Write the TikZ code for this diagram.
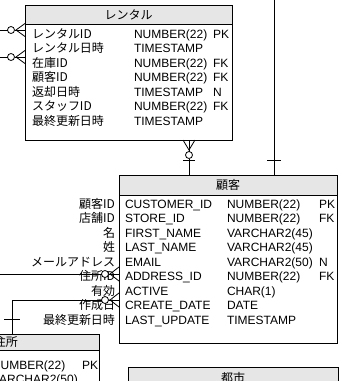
\documentclass[tikz,border=0pt]{standalone}
\usepackage{fontspec}
\setmainfont{Liberation Sans}
\newfontfamily\jp{Noto Sans CJK JP}
\definecolor{hdrgray}{HTML}{E6E6E6}
\begin{document}
\begin{tikzpicture}[x=1pt,y=-1pt,
  every node/.style={font=\fontsize{12}{14}\selectfont, inner sep=0pt, outer sep=0pt},
  ln/.style={line width=0.8pt, draw=black},
  tbl/.style={ln, anchor=north west, fill=white},
  hdr/.style={ln, anchor=north west, fill=hdrgray, font=\jp\fontsize{12}{14}\selectfont},
  txt/.style={anchor=base west, text=black},
  jtxt/.style={anchor=base west, font=\jp\fontsize{12}{14}\selectfont},
  jlab/.style={anchor=base east, font=\jp\fontsize{12}{14}\selectfont},
  zcirc/.style={circle, ln, fill=white, minimum size=7pt}
]
\useasboundingbox (0,0) rectangle (342,381);
\clip (0,0) rectangle (342,381);

% ---------- tables ----------
\node[tbl, minimum width=207pt, minimum height=135pt] (rental) at (25,5) {};
\node[hdr, minimum width=207pt, minimum height=19pt] (rentalh) at (25,5) {レンタル};

\node[tbl, minimum width=218pt, minimum height=168pt] (cust) at (119,175) {};
\node[hdr, minimum width=218pt, minimum height=20pt] (custh) at (119,175) {顧客};

\node[tbl, minimum width=186pt, minimum height=70pt] (addr) at (-87,334) {};
\node[hdr, minimum width=186pt, minimum height=16pt] (addrh) at (-87,334) {住所};

\node[tbl, minimum width=210pt, minimum height=40pt] (city) at (128,367) {};
\node[hdr, minimum width=210pt, minimum height=21pt] (cityh) at (128,367) {都市};

% ---------- rental rows ----------
\foreach \i/\nm/\ty/\fl in {0/レンタルID/NUMBER(22)/PK, 1/レンタル日時/TIMESTAMP/, 2/在庫ID/NUMBER(22)/FK, 3/顧客ID/NUMBER(22)/FK, 4/返却日時/TIMESTAMP/N, 5/スタッフID/NUMBER(22)/FK, 6/最終更新日時/TIMESTAMP/}{
  \node[jtxt] (rn\i) at (32,38+14.5*\i) {\nm};
  \node[txt] (rt\i) at (134,38+14.5*\i) {\ty};
  \node[txt] (rf\i) at (213,38+14.5*\i) {\fl};
}

% ---------- customer rows ----------
\foreach \i/\lb/\nm/\ty/\fl in {0/顧客ID/CUSTOMER\_ID/NUMBER(22)/PK, 1/店舗ID/STORE\_ID/NUMBER(22)/FK, 2/名/FIRST\_NAME/VARCHAR2(45)/, 3/姓/LAST\_NAME/VARCHAR2(45)/, 4/メールアドレス/EMAIL/VARCHAR2(50)/N, 5/住所ID/ADDRESS\_ID/NUMBER(22)/FK, 6/有効/ACTIVE/CHAR(1)/, 7/作成日/CREATE\_DATE/DATE/, 8/最終更新日時/LAST\_UPDATE/TIMESTAMP/}{
  \node[jlab] (cl\i) at (115,208+14.5*\i) {\lb};
  \node[txt] (cn\i) at (125,208+14.5*\i) {\nm};
  \node[txt] (ct\i) at (227,208+14.5*\i) {\ty};
  \node[txt] (cf\i) at (319,208+14.5*\i) {\fl};
}

% ---------- address rows ----------
\node[txt] (at0) at (-8,369) {NUMBER(22)};
\node[txt] (af0) at (82,369) {PK};
\node[txt] (at1) at (-8,383.5) {VARCHAR2(50)};

% ---------- connectors ----------
% top line into customer
\coordinate (topA) at (274,-2);
\draw[ln] (topA) -- (topA |- cust.north);
\draw[ln] (267,160) -- (281,160);

% rental -> customer
\node[zcirc] (c1) at (189,155) {};
\draw[ln] (183,0 |- rental.south) -- (189,150) -- (195,0 |- rental.south);
\draw[ln] (189,0 |- rental.south) -- (c1.north);
\draw[ln] (c1.south) -- (189,0 |- cust.north);
\draw[ln] (183,160) -- (195,160);

% left connectors into rental
\coordinate (L1) at (-2,30);
\coordinate (L2) at (-2,57);
\node[zcirc] (c2) at (11,30) {};
\node[zcirc] (c3) at (11,57) {};
\draw[ln] (L1) -- (c2.west);
\draw[ln] (c2.east) -- (c2 -| rental.west);
\draw[ln] (25,23.5) -- (16,30) -- (25,36.5);
\draw[ln] (L2) -- (c3.west);
\draw[ln] (c3.east) -- (c3 -| rental.west);
\draw[ln] (25,50.5) -- (16,57) -- (25,63.5);

% address id connector into customer
\coordinate (L3) at (-2,274);
\node[zcirc] (c4) at (105,274) {};
\draw[ln] (L3) -- (c4.west);
\draw[ln] (c4.east) -- (c4 -| cust.west);
\draw[ln] (119,267) -- (110,274) -- (119,281);

% customer -> address table
\coordinate (K) at (12,300);
\node[zcirc] (c5) at (105,300) {};
\draw[ln] (K |- addr.north) -- (K) -- (c5.west);
\draw[ln] (c5.east) -- (c5 -| cust.west);
\draw[ln] (119,293) -- (110,300) -- (119,307);
\draw[ln] (4,319) -- (20,319);
\end{tikzpicture}
\end{document}
